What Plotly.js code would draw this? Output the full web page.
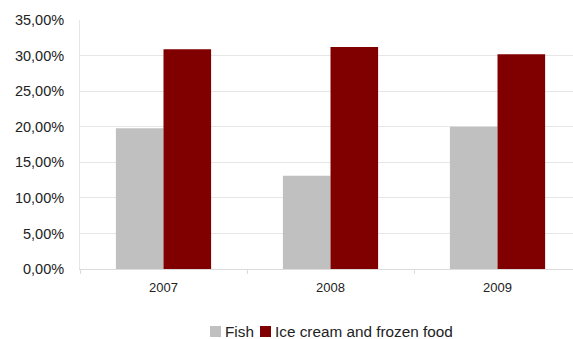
<!DOCTYPE html>
<html>
<head>
<meta charset="utf-8">
<script src="https://cdn.plot.ly/plotly-3.0.1.min.js"></script>
<style>
  html, body { margin: 0; padding: 0; background: #fff; }
  #chart { width: 573px; height: 339px; }
</style>
</head>
<body>
<div id="chart"></div>
<script>
// Share of sales by product group, per year (percent)
const years = ['2007', '2008', '2009'];
const fishShare = [19.8, 13.1, 20.0];
const iceCreamShare = [30.9, 31.2, 30.2];
const seriesNames = ['Fish', 'Ice cream and frozen food'];
const seriesColors = ['#c0c0c0', '#800000'];

const W = 573, H = 339;
const M = { l: 80, r: 0, t: 20, b: 70 };
const plotW = W - M.l - M.r;
const plotH = H - M.t - M.b;
// pixel -> paper coordinates for the hand-placed legend
const px = x => (x - M.l) / plotW;
const py = y => (H - M.b - y) / plotH;

const textColor = '#222222';
const gridColor = '#e6e6e6';

const traces = [fishShare, iceCreamShare].map((vals, i) => ({
  type: 'bar',
  x: years,
  y: vals,
  name: seriesNames[i],
  marker: { color: seriesColors[i], line: { width: 0 } },
  hoverinfo: 'x+y+name',
  showlegend: false
}));

// legend: coloured squares followed by the series names
const legendItems = [
  { sq: 210, text: 224 },
  { sq: 260, text: 273.5 }
];
const shapes = [];
const annotations = [];
legendItems.forEach((it, i) => {
  shapes.push({
    type: 'rect', xref: 'paper', yref: 'paper',
    x0: px(it.sq), x1: px(it.sq + 11),
    y0: py(326), y1: py(337),
    fillcolor: seriesColors[i], line: { width: 0 }
  });
  annotations.push({
    xref: 'paper', yref: 'paper',
    x: px(it.text), y: py(331.5),
    xanchor: 'left', yanchor: 'middle',
    text: seriesNames[i], showarrow: false,
    borderpad: 0,
    font: { family: 'Liberation Sans, Arial, sans-serif', size: 15.3, color: textColor }
  });
});

const layout = {
  width: W, height: H,
  margin: M,
  paper_bgcolor: '#ffffff',
  plot_bgcolor: '#ffffff',
  separators: ',.',
  barmode: 'group',
  bargap: 0.43,
  bargroupgap: 0,
  showlegend: false,
  font: { family: 'Liberation Sans, Arial, sans-serif', size: 13, color: textColor },
  xaxis: {
    type: 'category',
    range: [-0.5, 2.452],
    showgrid: false,
    zeroline: false,
    showline: true,
    linecolor: '#dcdcdc',
    linewidth: 1,
    ticks: 'outside',
    tickson: 'boundaries',
    ticklen: 4,
    tickcolor: '#dcdcdc',
    ticklabelstandoff: 6,
    tickfont: { size: 13, color: textColor }
  },
  yaxis: {
    range: [0, 35],
    dtick: 5,
    tick0: 0,
    tickformat: '.2f',
    ticksuffix: '%',
    showgrid: true,
    gridcolor: gridColor,
    gridwidth: 1,
    zeroline: false,
    showline: true,
    linecolor: gridColor,
    ticks: '',
    ticklabelstandoff: 12,
    tickfont: { size: 14.5, color: textColor }
  },
  shapes: shapes,
  annotations: annotations
};

Plotly.newPlot('chart', traces, layout, { displayModeBar: false, staticPlot: true });
</script>
</body>
</html>
